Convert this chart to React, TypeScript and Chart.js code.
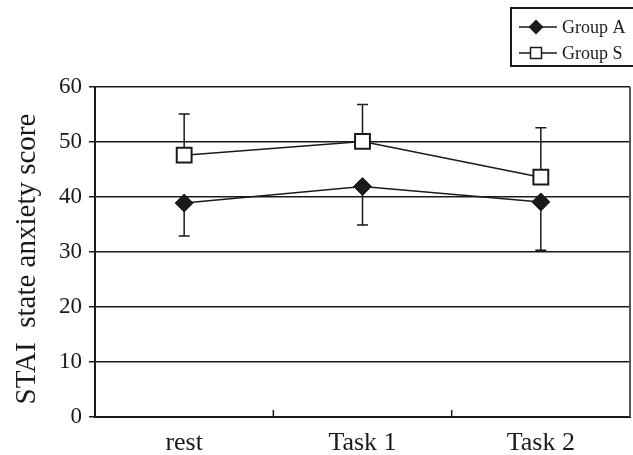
import React, { useEffect, useRef } from "react";
import { Chart, registerables } from "chart.js";

Chart.register(...registerables);

const categories = ["rest", "Task 1", "Task 2"];
const groupAMean = [38.9, 41.9, 39.1];
const groupAErr = [6.0, 7.0, 8.8]; // drawn downward
const groupSMean = [47.6, 50.1, 43.6];
const groupSErr = [7.5, 6.7, 9.0]; // drawn upward
const yTicks = [0, 10, 20, 30, 40, 50, 60];
const seriesNames = ["Group A", "Group S"];
const yTitle = "STAI  state anxiety score";

const FONT = "'Liberation Serif', 'Times New Roman', serif";

const errorBarPlugin = {
  id: "errorBars",
  beforeDatasetsDraw(chart: any) {
    const { ctx, scales } = chart;
    const x = scales.x;
    const y = scales.y;
    ctx.save();
    ctx.strokeStyle = "#1a1a1a";
    ctx.lineWidth = 1.5;
    const draw = (means: number[], errs: number[], dir: number) => {
      means.forEach((m, i) => {
        const px = x.getPixelForValue(i);
        const y0 = y.getPixelForValue(m);
        const y1 = y.getPixelForValue(m + dir * errs[i]);
        ctx.beginPath();
        ctx.moveTo(px, y0);
        ctx.lineTo(px, y1);
        ctx.moveTo(px - 5.5, y1);
        ctx.lineTo(px + 5.5, y1);
        ctx.stroke();
      });
    };
    draw(groupAMean, groupAErr, -1);
    draw(groupSMean, groupSErr, 1);
    ctx.restore();
  },
};

const framePlugin = {
  id: "frame",
  afterDraw(chart: any) {
    const { ctx, chartArea, scales } = chart;
    const x = scales.x;
    ctx.save();
    // inner category-boundary ticks
    ctx.strokeStyle = "#1a1a1a";
    ctx.lineWidth = 1.5;
    for (let i = 1; i < categories.length; i++) {
      const bx = (x.getPixelForValue(i - 1) + x.getPixelForValue(i)) / 2;
      ctx.beginPath();
      ctx.moveTo(bx, chartArea.bottom);
      ctx.lineTo(bx, chartArea.bottom - 7);
      ctx.stroke();
    }
    // right border
    ctx.strokeStyle = "#555";
    ctx.lineWidth = 2;
    ctx.beginPath();
    ctx.moveTo(chartArea.right, chartArea.top);
    ctx.lineTo(chartArea.right, chartArea.bottom);
    ctx.stroke();

    // y title
    ctx.fillStyle = "#1a1a1a";
    ctx.font = `29px ${FONT}`;
    ctx.textAlign = "center";
    ctx.textBaseline = "middle";
    ctx.translate(27, 259);
    ctx.rotate(-Math.PI / 2);
    ctx.fillText(yTitle, 0, 0);
    ctx.restore();

    // legend
    ctx.save();
    ctx.strokeStyle = "#1a1a1a";
    ctx.lineWidth = 2;
    ctx.beginPath();
    ctx.moveTo(636, 8);
    ctx.lineTo(511, 8);
    ctx.lineTo(511, 66);
    ctx.lineTo(636, 66);
    ctx.stroke();
    const rows = [27, 53];
    ctx.font = `18px ${FONT}`;
    ctx.textAlign = "left";
    ctx.textBaseline = "middle";
    rows.forEach((ry, i) => {
      ctx.strokeStyle = "#1a1a1a";
      ctx.lineWidth = 1.5;
      ctx.beginPath();
      ctx.moveTo(519, ry);
      ctx.lineTo(557, ry);
      ctx.stroke();
      const cx = 536;
      if (i === 0) {
        ctx.fillStyle = "#1a1a1a";
        ctx.beginPath();
        ctx.moveTo(cx - 7.5, ry);
        ctx.lineTo(cx, ry - 7.5);
        ctx.lineTo(cx + 7.5, ry);
        ctx.lineTo(cx, ry + 7.5);
        ctx.closePath();
        ctx.fill();
      } else {
        ctx.fillStyle = "#fff";
        ctx.fillRect(cx - 5.5, ry - 5.5, 11, 11);
        ctx.lineWidth = 1.5;
        ctx.strokeRect(cx - 5.5, ry - 5.5, 11, 11);
      }
      ctx.fillStyle = "#1a1a1a";
      ctx.fillText(seriesNames[i], 562, ry + 1);
    });
    ctx.restore();
  },
};

export default function App() {
  const ref = useRef<HTMLCanvasElement>(null);
  useEffect(() => {
    document.body.style.margin = "0";
    const chart = new Chart(ref.current!, {
      type: "line",
      data: {
        labels: categories,
        datasets: [
          {
            label: seriesNames[0],
            data: groupAMean,
            borderColor: "#1a1a1a",
            borderWidth: 1.5,
            pointStyle: "rectRot",
            pointRadius: 9,
            pointBackgroundColor: "#1a1a1a",
            pointBorderColor: "#1a1a1a",
            pointBorderWidth: 1,
            tension: 0,
          },
          {
            label: seriesNames[1],
            data: groupSMean,
            borderColor: "#1a1a1a",
            borderWidth: 1.5,
            pointStyle: "rect",
            pointRadius: 10.5,
            pointBackgroundColor: "#fff",
            pointBorderColor: "#1a1a1a",
            pointBorderWidth: 2,
            tension: 0,
          },
        ],
      },
      options: {
        responsive: false,
        animation: false,
        events: [],
        layout: { autoPadding: false, padding: { top: 87, right: 3, left: 0, bottom: 0 } },
        plugins: { legend: { display: false }, tooltip: { enabled: false } },
        scales: {
          x: {
            offset: true,
            grid: { display: false, offset: true },
            border: { display: true, color: "#1a1a1a", width: 2 },
            ticks: { color: "#1a1a1a", font: { family: FONT, size: 26 }, padding: 3 },
            afterFit: (s: any) => {
              s.height = 38;
              s.paddingLeft = 0;
              s.paddingRight = 0;
            },
          },
          y: {
            min: 0,
            max: 60,
            afterBuildTicks: (s: any) => { s.ticks = yTicks.map((v) => ({ value: v })); },
            grid: { color: "#1a1a1a", lineWidth: 1.5, tickLength: 6 },
            border: { display: true, color: "#1a1a1a", width: 2 },
            ticks: { color: "#1a1a1a", font: { family: FONT, size: 23 }, padding: 7 },
            afterFit: (s: any) => { s.width = 95; },
          },
        },
      },
      plugins: [errorBarPlugin, framePlugin],
    });
    return () => chart.destroy();
  }, []);
  return <canvas ref={ref} width={633} height={455} style={{ display: "block" }} />;
}
